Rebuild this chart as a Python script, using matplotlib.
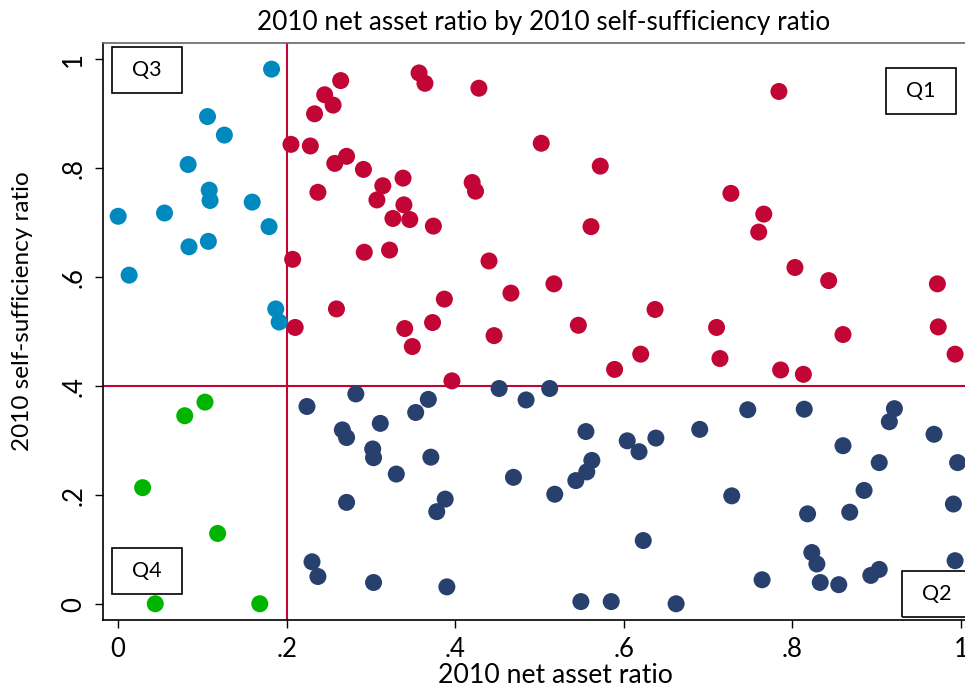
import matplotlib.pyplot as plt
from matplotlib.patches import Rectangle

plt.rcParams['font.family'] = ['Lato', 'DejaVu Sans']

# quadrant 1: net asset >= .2, self-sufficiency >= .4
q1_x = [0.264, 0.245, 0.255, 0.233, 0.205, 0.228, 0.257, 0.271, 0.291, 0.338,
        0.314, 0.307, 0.339, 0.326, 0.346, 0.237, 0.207, 0.292, 0.322, 0.259,
        0.210, 0.340, 0.357, 0.364, 0.428, 0.502, 0.572, 0.374, 0.420, 0.424,
        0.561, 0.440, 0.517, 0.466, 0.387, 0.373, 0.349, 0.446, 0.546, 0.637,
        0.620, 0.589, 0.396, 0.784, 0.727, 0.766, 0.760, 0.803, 0.843, 0.972,
        0.710, 0.714, 0.860, 0.973, 0.993, 0.786, 0.813]
q1_y = [0.961, 0.935, 0.916, 0.900, 0.844, 0.841, 0.809, 0.822, 0.798, 0.782,
        0.768, 0.742, 0.733, 0.708, 0.706, 0.756, 0.633, 0.646, 0.650, 0.542,
        0.508, 0.506, 0.975, 0.956, 0.947, 0.846, 0.804, 0.694, 0.774, 0.758,
        0.693, 0.630, 0.588, 0.571, 0.560, 0.517, 0.473, 0.493, 0.512, 0.541,
        0.459, 0.431, 0.410, 0.941, 0.754, 0.716, 0.683, 0.618, 0.594, 0.588,
        0.508, 0.451, 0.495, 0.509, 0.459, 0.430, 0.422]

# quadrant 2: net asset >= .2, self-sufficiency < .4
q2_x = [0.224, 0.282, 0.311, 0.266, 0.271, 0.302, 0.303, 0.330, 0.271, 0.230,
        0.237, 0.303, 0.452, 0.512, 0.484, 0.368, 0.353, 0.371, 0.469, 0.388,
        0.378, 0.518, 0.555, 0.604, 0.618, 0.638, 0.562, 0.556, 0.543, 0.623,
        0.390, 0.549, 0.585, 0.662, 0.747, 0.814, 0.921, 0.915, 0.968, 0.690,
        0.860, 0.903, 0.996, 0.885, 0.728, 0.818, 0.868, 0.991, 0.823, 0.829,
        0.903, 0.893, 0.993, 0.764, 0.833, 0.855]
q2_y = [0.363, 0.386, 0.332, 0.320, 0.306, 0.285, 0.269, 0.239, 0.187, 0.078,
        0.051, 0.040, 0.396, 0.396, 0.375, 0.376, 0.352, 0.270, 0.233, 0.193,
        0.170, 0.202, 0.317, 0.300, 0.280, 0.305, 0.264, 0.243, 0.227, 0.117,
        0.032, 0.005, 0.005, 0.001, 0.357, 0.358, 0.359, 0.335, 0.312, 0.321,
        0.291, 0.260, 0.260, 0.209, 0.199, 0.166, 0.169, 0.184, 0.095, 0.074,
        0.064, 0.053, 0.080, 0.045, 0.040, 0.036]

# quadrant 3: net asset < .2, self-sufficiency >= .4
q3_x = [0.182, 0.106, 0.126, 0.083, 0.108, 0.109, 0.159, 0.000, 0.055, 0.179,
        0.084, 0.107, 0.013, 0.187, 0.191]
q3_y = [0.982, 0.895, 0.861, 0.807, 0.760, 0.741, 0.738, 0.712, 0.718, 0.693,
        0.656, 0.666, 0.604, 0.542, 0.518]

# quadrant 4: net asset < .2, self-sufficiency < .4
q4_x = [0.103, 0.079, 0.029, 0.118, 0.044, 0.168]
q4_y = [0.371, 0.346, 0.214, 0.130, 0.001, 0.001]

x_cut = 0.2
y_cut = 0.4
ticks = [0, 0.2, 0.4, 0.6, 0.8, 1]
tick_labels = ['0', '.2', '.4', '.6', '.8', '1']

red = '#C10534'
fig = plt.figure(figsize=(9.65, 6.88), dpi=100)
ax = fig.add_axes([103 / 965, 68 / 688, 862.2 / 965, 576.7 / 688])

ax.scatter(q1_x, q1_y, s=150, color=red, edgecolors='none', zorder=3)
ax.scatter(q2_x, q2_y, s=150, color='#27406E', edgecolors='none', zorder=3)
ax.scatter(q3_x, q3_y, s=150, color='#0089BE', edgecolors='none', zorder=3)
ax.scatter(q4_x, q4_y, s=150, color='#00B400', edgecolors='none', zorder=3)

ax.axvline(x_cut, color=red, lw=1.5, zorder=2)
ax.axhline(y_cut, color=red, lw=1.5, zorder=2)

# quadrant label boxes (left, bottom, label)
boxes = [(0.911, 0.900, 'Q1'), (0.9296, -0.0239, 'Q2'),
         (-0.0078, 0.9376, 'Q3'), (-0.0078, 0.0183, 'Q4')]
bw, bh = 0.083, 0.0844
for bx, by, lab in boxes:
    ax.add_patch(Rectangle((bx, by), bw, bh, fill=False, ec='black', lw=1.2,
                           zorder=4, clip_on=False))
    ax.text(bx + bw / 2, by + bh / 2, lab, ha='center', va='center',
            fontsize=15.5, zorder=5)

ax.set_xlim(-0.018, 1.005)
ax.set_ylim(-0.0288, 1.0294)
ax.set_xticks(ticks)
ax.set_xticklabels(tick_labels)
ax.set_yticks(ticks)
ax.set_yticklabels(tick_labels, rotation=90, va='center')
ax.tick_params(labelsize=18.5, length=6, width=1, direction='out', pad=6)

ax.spines['right'].set_visible(False)
ax.spines['top'].set_color('#666666')
for s in ['top', 'left', 'bottom']:
    ax.spines[s].set_linewidth(1.2)

ax.set_title('2010 net asset ratio by 2010 self-sufficiency ratio', fontsize=18.8,
             x=0.5115, y=1.036, va='center', pad=0)
ax.set_xlabel('2010 net asset ratio', fontsize=19.2)
ax.xaxis.label.set_va('center')
ax.xaxis.set_label_coords(0.525, -0.097)
ax.set_ylabel('2010 self-sufficiency ratio', fontsize=17.5)
ax.yaxis.label.set_va('center')
ax.yaxis.set_label_coords(-0.093, 0.535)

plt.savefig('out.png', dpi=100)
